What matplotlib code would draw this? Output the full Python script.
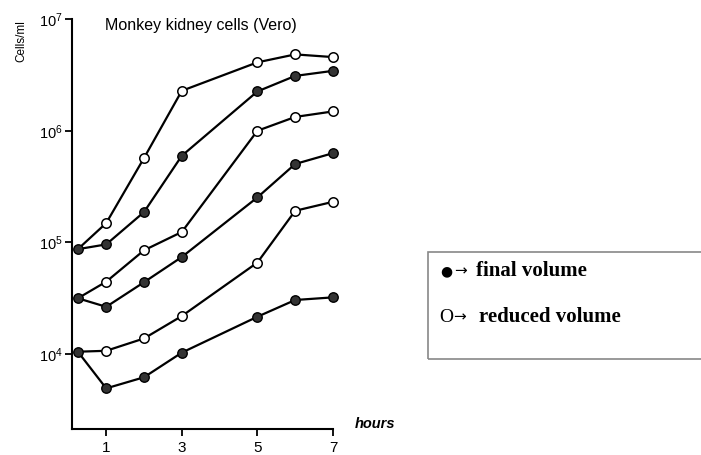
import numpy as np
import matplotlib
matplotlib.use('Agg')
import matplotlib.pyplot as plt
from matplotlib.patches import Rectangle

plt.rcParams.update({
    'font.family': ['Liberation Sans', 'DejaVu Sans'],
    'mathtext.default': 'regular',
    'axes.linewidth': 1.5,
})

# time points (hours); first point is the shared start
hours = [0.25, 1, 2, 3, 5, 6, 7]

# cells/ml, top to bottom pairs (reduced volume = open, final volume = filled)
reduced_hi = [8.7e4, 1.49e5, 5.7e5, 2.28e6, 4.1e6, 4.83e6, 4.57e6]
final_hi = [8.7e4, 9.6e4, 1.87e5, 5.97e5, 2.25e6, 3.1e6, 3.44e6]
reduced_mid = [3.16e4, 4.45e4, 8.5e4, 1.24e5, 1.0e6, 1.33e6, 1.49e6]
final_mid = [3.16e4, 2.65e4, 4.4e4, 7.4e4, 2.53e5, 5.04e5, 6.3e5]
reduced_lo = [1.05e4, 1.07e4, 1.38e4, 2.19e4, 6.6e4, 1.92e5, 2.31e5]
final_lo = [1.05e4, 4.93e3, 6.2e3, 1.03e4, 2.16e4, 3.05e4, 3.22e4]

x_ticks = [1, 3, 5, 7]
y_ticks = [1e4, 1e5, 1e6, 1e7]
y_labels = ['$10^{4}$', '$10^{5}$', '$10^{6}$', '$10^{7}$']

W, H = 701, 455
fig = plt.figure(figsize=(W / 100, H / 100), dpi=100)
ax = fig.add_axes([0.103, 0.057, 0.372, 0.901])

for series in [reduced_hi, reduced_mid, reduced_lo, final_hi, final_mid, final_lo]:
    ax.plot(hours, series, color='black', lw=1.6, zorder=2, clip_on=False)

for series in [reduced_hi, reduced_mid, reduced_lo]:
    ax.plot(hours[1:], series[1:], 'o', ms=6.8, mfc='white', mec='black', mew=1.1,
            zorder=3, clip_on=False)
for series in [final_hi, final_mid, final_lo]:
    ax.plot(hours, series, 'o', ms=6.8, mfc='#333333', mec='black', mew=1.0,
            zorder=3, clip_on=False)

ax.set_yscale('log')
ax.set_xlim(0.1, 7.0)
ax.set_ylim(2.13e3, 1e7)
ax.set_xticks(x_ticks)
ax.set_xticklabels([str(t) for t in x_ticks], fontsize=11)
ax.set_yticks(y_ticks)
ax.set_yticklabels(y_labels, fontsize=10.5)
ax.yaxis.set_minor_locator(matplotlib.ticker.NullLocator())
ax.tick_params(axis='both', direction='out', length=5, width=1.3)
ax.tick_params(axis='y', pad=2)
ax.spines['top'].set_visible(False)
ax.spines['right'].set_visible(False)

fig.text(0.03, 0.955, 'Cells/ml', rotation=90, fontsize=8.5, ha='center', va='top')
fig.text(0.287, 0.945, 'Monkey kidney cells (Vero)', fontsize=11.5, ha='center', va='center')
fig.text(0.535, 0.068, 'hours', fontsize=10.5, fontweight='bold', style='italic',
         ha='center', va='center')

# legend box
fig.patches.append(Rectangle((428 / W, 1 - 359 / H), 0.40, 107 / H, transform=fig.transFigure,
                             fill=False, edgecolor='#888888', lw=1.2))
serif = ['Liberation Serif', 'DejaVu Serif']
row1, row2 = 1 - 271 / H, 1 - 317 / H
fig.text(440 / W, row1, '\u25cf', fontsize=10, family=['DejaVu Sans'], va='center')
fig.text(454 / W, row1, '\u2192', fontsize=11, family=['DejaVu Sans'], va='center')
fig.text(476 / W, row1, 'final volume', fontsize=15, family=serif, fontweight='bold',
         va='center')
fig.text(439 / W, row2, 'O', fontsize=14, family=serif, va='center')
fig.text(453 / W, row2, '\u2192', fontsize=11, family=['DejaVu Sans'], va='center')
fig.text(479 / W, row2, 'reduced volume', fontsize=15, family=serif, fontweight='bold',
         va='center')

fig.savefig('out.png', dpi=100)
